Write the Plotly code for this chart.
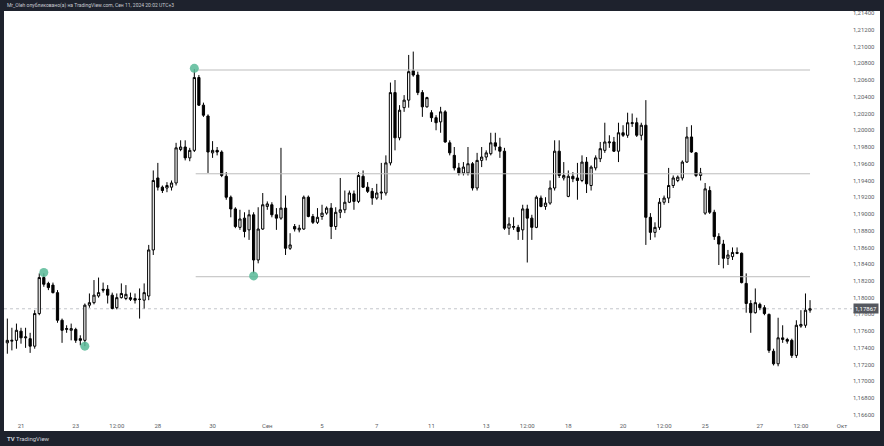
import plotly.graph_objects as go

# ---------------- data ----------------
start_index = -3  # candle indices run from -3 .. 173 (4h bars, index 0 = "21")

opens = [
    1.1746, 1.1748, 1.1749, 1.1760, 1.1752, 1.1751, 1.1742, 1.1781, 1.1824, 1.1817,
    1.1815, 1.1806, 1.1773, 1.1762, 1.1761, 1.1762, 1.1751, 1.1749, 1.1791, 1.1794,
    1.1802, 1.1810, 1.1810, 1.1803, 1.1788, 1.1800, 1.1799, 1.1800, 1.1799, 1.1798,
    1.1797, 1.1802, 1.1857, 1.1943, 1.1932, 1.1931, 1.1932, 1.1937, 1.1977, 1.1980,
    1.1967, 1.1976, 1.2063, 1.2030, 1.2017, 1.1973, 1.1976, 1.1974, 1.1945, 1.1920,
    1.1906, 1.1884, 1.1895, 1.1881, 1.1899, 1.1845, 1.1882, 1.1909, 1.1911, 1.1899,
    1.1895, 1.1907, 1.1859, 1.1885, 1.1881, 1.1882, 1.1920, 1.1897, 1.1890, 1.1897,
    1.1901, 1.1907, 1.1885, 1.1902, 1.1905, 1.1914, 1.1924, 1.1915, 1.1945, 1.1932,
    1.1927, 1.1919, 1.1925, 1.1925, 1.1961, 1.2045, 1.1991, 1.2027, 1.2036, 1.2071,
    1.2066, 1.2045, 1.2028, 1.2021, 1.2015, 1.2010, 1.2022, 1.1985, 1.1970, 1.1955,
    1.1949, 1.1949, 1.1960, 1.1931, 1.1964, 1.1968, 1.1972, 1.1985, 1.1980, 1.1975,
    1.1883, 1.1884, 1.1884, 1.1881, 1.1906, 1.1895, 1.1884, 1.1919, 1.1909, 1.1913,
    1.1931, 1.1975, 1.1943, 1.1921, 1.1945, 1.1943, 1.1940, 1.1962, 1.1934, 1.1955,
    1.1966, 1.1976, 1.1985, 1.1986, 1.1975, 1.1997, 1.1994, 1.2008, 1.2009, 1.1994,
    1.2006, 1.1896, 1.1878, 1.1884, 1.1914, 1.1919, 1.1934, 1.1940, 1.1943, 1.1962,
    1.1992, 1.1973, 1.1946, 1.1901, 1.1928, 1.1902, 1.1873, 1.1864, 1.1847, 1.1849,
    1.1854, 1.1853, 1.1817, 1.1793, 1.1782, 1.1792, 1.1788, 1.1780, 1.1736, 1.1721,
    1.1750, 1.1750, 1.1749, 1.1731, 1.1766, 1.1767, 1.1785,
]

highs = [
    1.1775, 1.1764, 1.1769, 1.1764, 1.1764, 1.1758, 1.1785, 1.1829, 1.1829, 1.1819,
    1.1818, 1.1809, 1.1775, 1.1767, 1.1769, 1.1764, 1.1755, 1.1793, 1.1805, 1.1821,
    1.1824, 1.1818, 1.1815, 1.1806, 1.1805, 1.1817, 1.1815, 1.1806, 1.1805, 1.1811,
    1.1817, 1.1863, 1.1952, 1.1961, 1.1934, 1.1938, 1.1940, 1.1985, 1.1988, 1.1988,
    1.1979, 1.2073, 1.2066, 1.2033, 1.2019, 1.1987, 1.1980, 1.1976, 1.1950, 1.1922,
    1.1908, 1.1905, 1.1902, 1.1905, 1.1902, 1.1908, 1.1925, 1.1915, 1.1914, 1.1907,
    1.1979, 1.1922, 1.1877, 1.1888, 1.1887, 1.1922, 1.1922, 1.1900, 1.1907, 1.1911,
    1.1909, 1.1913, 1.1908, 1.1943, 1.1928, 1.1928, 1.1928, 1.1950, 1.1952, 1.1938,
    1.1931, 1.1936, 1.1961, 1.1970, 1.2057, 1.2060, 1.2030, 1.2042, 1.2090, 1.2094,
    1.2070, 1.2048, 1.2040, 1.2024, 1.2018, 1.2028, 1.2024, 1.1988, 1.1980, 1.1961,
    1.1962, 1.1980, 1.1962, 1.1973, 1.1980, 1.1976, 1.1997, 1.1997, 1.1991, 1.1979,
    1.1896, 1.1896, 1.1887, 1.1911, 1.1911, 1.1899, 1.1922, 1.1922, 1.1920, 1.1940,
    1.1988, 1.1988, 1.1962, 1.1952, 1.1950, 1.1961, 1.1970, 1.1968, 1.1958, 1.1970,
    1.1986, 1.2009, 1.1994, 1.1992, 1.2009, 1.2006, 1.2021, 1.2020, 1.2015, 1.2009,
    1.2036, 1.1901, 1.1890, 1.1919, 1.1922, 1.1955, 1.1946, 1.1946, 1.1964, 1.2004,
    1.2006, 1.1974, 1.1955, 1.1937, 1.1933, 1.1905, 1.1877, 1.1869, 1.1857, 1.1860,
    1.1860, 1.1854, 1.1829, 1.1797, 1.1811, 1.1794, 1.1791, 1.1781, 1.1739, 1.1776,
    1.1767, 1.1752, 1.1751, 1.1773, 1.1785, 1.1805, 1.1797,
]

lows = [
    1.1733, 1.1737, 1.1739, 1.1745, 1.1740, 1.1734, 1.1739, 1.1779, 1.1813, 1.1809,
    1.1805, 1.1770, 1.1746, 1.1758, 1.1749, 1.1746, 1.1743, 1.1742, 1.1788, 1.1792,
    1.1800, 1.1806, 1.1793, 1.1786, 1.1786, 1.1799, 1.1797, 1.1796, 1.1793, 1.1775,
    1.1787, 1.1797, 1.1851, 1.1928, 1.1925, 1.1926, 1.1928, 1.1934, 1.1975, 1.1964,
    1.1963, 1.1974, 1.2029, 1.2016, 1.1949, 1.1967, 1.1970, 1.1944, 1.1917, 1.1896,
    1.1883, 1.1881, 1.1872, 1.1869, 1.1829, 1.1841, 1.1881, 1.1905, 1.1896, 1.1881,
    1.1893, 1.1851, 1.1857, 1.1879, 1.1878, 1.1881, 1.1896, 1.1888, 1.1888, 1.1893,
    1.1899, 1.1870, 1.1881, 1.1895, 1.1901, 1.1913, 1.1905, 1.1913, 1.1931, 1.1925,
    1.1911, 1.1917, 1.1917, 1.1922, 1.1958, 1.1976, 1.1988, 1.2022, 1.2027, 1.2064,
    1.2042, 1.2016, 1.2027, 1.2010, 1.2000, 1.1997, 1.1985, 1.1970, 1.1952, 1.1946,
    1.1946, 1.1946, 1.1928, 1.1928, 1.1956, 1.1964, 1.1970, 1.1976, 1.1967, 1.1881,
    1.1875, 1.1881, 1.1869, 1.1869, 1.1842, 1.1869, 1.1883, 1.1908, 1.1905, 1.1911,
    1.1928, 1.1943, 1.1940, 1.1920, 1.1938, 1.1917, 1.1938, 1.1925, 1.1928, 1.1952,
    1.1962, 1.1973, 1.1979, 1.1974, 1.1962, 1.1992, 1.1991, 1.2004, 1.1992, 1.1988,
    1.1863, 1.1869, 1.1872, 1.1881, 1.1911, 1.1913, 1.1931, 1.1938, 1.1940, 1.1961,
    1.1973, 1.1944, 1.1940, 1.1899, 1.1900, 1.1869, 1.1839, 1.1835, 1.1839, 1.1845,
    1.1852, 1.1817, 1.1782, 1.1758, 1.1781, 1.1785, 1.1779, 1.1734, 1.1719, 1.1718,
    1.1746, 1.1745, 1.1728, 1.1728, 1.1764, 1.1764, 1.1782,
]

closes = [
    1.1749, 1.1749, 1.1761, 1.1752, 1.1753, 1.1742, 1.1781, 1.1824, 1.1816, 1.1812,
    1.1806, 1.1773, 1.1761, 1.1763, 1.1763, 1.1749, 1.1749, 1.1791, 1.1794, 1.1803,
    1.1806, 1.1809, 1.1803, 1.1787, 1.1800, 1.1805, 1.1804, 1.1798, 1.1797, 1.1798,
    1.1806, 1.1857, 1.1940, 1.1932, 1.1928, 1.1934, 1.1937, 1.1979, 1.1980, 1.1967,
    1.1976, 1.2063, 1.2030, 1.2018, 1.1974, 1.1976, 1.1974, 1.1946, 1.1920, 1.1906,
    1.1885, 1.1894, 1.1879, 1.1899, 1.1845, 1.1882, 1.1911, 1.1912, 1.1899, 1.1895,
    1.1907, 1.1859, 1.1863, 1.1882, 1.1883, 1.1920, 1.1897, 1.1890, 1.1896, 1.1901,
    1.1907, 1.1885, 1.1902, 1.1905, 1.1914, 1.1925, 1.1915, 1.1946, 1.1932, 1.1927,
    1.1919, 1.1925, 1.1926, 1.1961, 1.2045, 1.1991, 1.2024, 1.2036, 1.2070, 1.2066,
    1.2045, 1.2028, 1.2039, 1.2015, 1.2009, 1.2022, 1.1986, 1.1973, 1.1955, 1.1949,
    1.1956, 1.1960, 1.1931, 1.1964, 1.1968, 1.1973, 1.1985, 1.1981, 1.1975, 1.1883,
    1.1888, 1.1885, 1.1879, 1.1906, 1.1895, 1.1884, 1.1920, 1.1909, 1.1913, 1.1931,
    1.1975, 1.1946, 1.1946, 1.1945, 1.1942, 1.1940, 1.1962, 1.1936, 1.1956, 1.1967,
    1.1978, 1.1986, 1.1986, 1.1975, 1.1997, 1.1994, 1.2009, 1.2009, 1.1994, 1.2006,
    1.1896, 1.1878, 1.1884, 1.1914, 1.1919, 1.1934, 1.1943, 1.1944, 1.1962, 1.1992,
    1.1974, 1.1946, 1.1949, 1.1930, 1.1902, 1.1873, 1.1864, 1.1847, 1.1851, 1.1854,
    1.1853, 1.1818, 1.1793, 1.1782, 1.1794, 1.1788, 1.1781, 1.1737, 1.1721, 1.1752,
    1.1752, 1.1748, 1.1731, 1.1767, 1.1768, 1.1785, 1.17867,
]

x_tick_index = [0, 12, 21, 30, 42, 54, 66, 78, 90, 102, 111, 120, 132, 141, 150, 162, 171, 180]
x_tick_text = ["21", "23", "12:00", "28", "30", "Сен", "5", "7", "11", "13", "12:00",
               "18", "20", "12:00", "25", "27", "12:00", "Окт"]

y_tick_values = [1.166, 1.168, 1.170, 1.172, 1.174, 1.176, 1.178, 1.180, 1.182, 1.184,
                 1.186, 1.188, 1.190, 1.192, 1.194, 1.196, 1.198, 1.200, 1.202, 1.204,
                 1.206, 1.208, 1.210, 1.212, 1.214]

level_prices = [1.2072, 1.1948, 1.1825]
level_start_index = 38.3
level_end_index = 173

pivot_index = [38, 5, 14, 51]
pivot_price = [1.2074, 1.1830, 1.1742, 1.1826]

title_text = "Mr_Oleh опубликовано(а) на TradingView.com, Сен 11, 2024 20:02 UTC+3"
last_price = closes[-1]

# ---------------- figure ----------------
W, H = 884, 446
ML, MR, MT, MB = 4, 32, 11, 28
pw, ph = W - ML - MR, H - MT - MB

idx = list(range(start_index, start_index + len(closes)))

fig = go.Figure()
fig.add_trace(go.Candlestick(
    x=idx, open=opens, high=highs, low=lows, close=closes,
    increasing=dict(fillcolor="#ffffff", line=dict(color="#000000", width=1)),
    decreasing=dict(fillcolor="#000000", line=dict(color="#000000", width=1)),
    whiskerwidth=0, showlegend=False, hoverinfo="skip",
))

for p in level_prices:
    fig.add_trace(go.Scatter(
        x=[level_start_index, level_end_index], y=[p, p], mode="lines",
        line=dict(color="#bdbdbd", width=1), showlegend=False, hoverinfo="skip"))

fig.add_trace(go.Scatter(
    x=pivot_index, y=pivot_price, mode="markers",
    marker=dict(size=9, color="rgba(88,186,152,0.85)", line=dict(width=0)),
    showlegend=False, hoverinfo="skip"))

DARK = "#1e222d"
def px_x(v):
    return (v - ML) / pw
def px_y(v):
    return (H - MB - v) / ph

shapes = [
    # current price dotted line
    dict(type="line", xref="paper", yref="y", x0=0, x1=1, y0=last_price, y1=last_price,
         line=dict(color="#c4c6cc", width=1, dash="dot"), layer="below"),
    # dark frame
    dict(type="rect", xref="paper", yref="paper", x0=px_x(0), x1=px_x(W), y0=px_y(MT), y1=px_y(0),
         fillcolor=DARK, line=dict(width=0), layer="above"),
    dict(type="rect", xref="paper", yref="paper", x0=px_x(0), x1=px_x(W), y0=px_y(H), y1=px_y(431),
         fillcolor=DARK, line=dict(width=0), layer="above"),
    dict(type="rect", xref="paper", yref="paper", x0=px_x(0), x1=px_x(4), y0=px_y(H), y1=px_y(0),
         fillcolor=DARK, line=dict(width=0), layer="above"),
    dict(type="rect", xref="paper", yref="paper", x0=px_x(880), x1=px_x(W), y0=px_y(H), y1=px_y(0),
         fillcolor=DARK, line=dict(width=0), layer="above"),
]

annotations = [
    dict(xref="paper", yref="paper", x=px_x(5), y=px_y(5.5), xanchor="left", yanchor="middle",
         text=title_text, showarrow=False, font=dict(size=5, color="#c8cad0", family="Roboto")),
    dict(xref="paper", yref="paper", x=px_x(5), y=px_y(438.5), xanchor="left", yanchor="middle",
         text="<b>TV</b> TradingView", showarrow=False, font=dict(size=6, color="#d1d4dc", family="Roboto")),
    dict(xref="paper", yref="y", x=px_x(853), y=last_price, xanchor="left", yanchor="middle",
         text=f"{last_price:.5f}".replace(".", ","), showarrow=False, bgcolor="#55585f",
         font=dict(size=6, color="#ffffff", family="Roboto"), borderpad=1),
]

fig.update_layout(
    width=W, height=H,
    margin=dict(l=ML, r=MR, t=MT, b=MB, pad=0),
    paper_bgcolor="#ffffff", plot_bgcolor="#ffffff",
    separators=",.",
    shapes=shapes, annotations=annotations,
    font=dict(family="Roboto", size=6, color="#5a5d66"),
    xaxis=dict(range=[-3.73, 182.2], tickmode="array", tickvals=x_tick_index, ticktext=x_tick_text,
               showgrid=False, zeroline=False, showline=False, ticks="", ticklabelstandoff=3,
               rangeslider=dict(visible=False), tickfont=dict(size=6, color="#5a5d66")),
    yaxis=dict(range=[1.16562, 1.21425], side="right", tickmode="array", tickvals=y_tick_values,
               tickformat=".5f", showgrid=False, zeroline=False, showline=False, ticks="",
               tickfont=dict(size=6, color="#5a5d66")),
)

fig.write_html("out.html",
               config={"displayModeBar": False, "staticPlot": True},
               post_script="document.body.style.margin='0px';document.body.style.overflow='hidden';")
